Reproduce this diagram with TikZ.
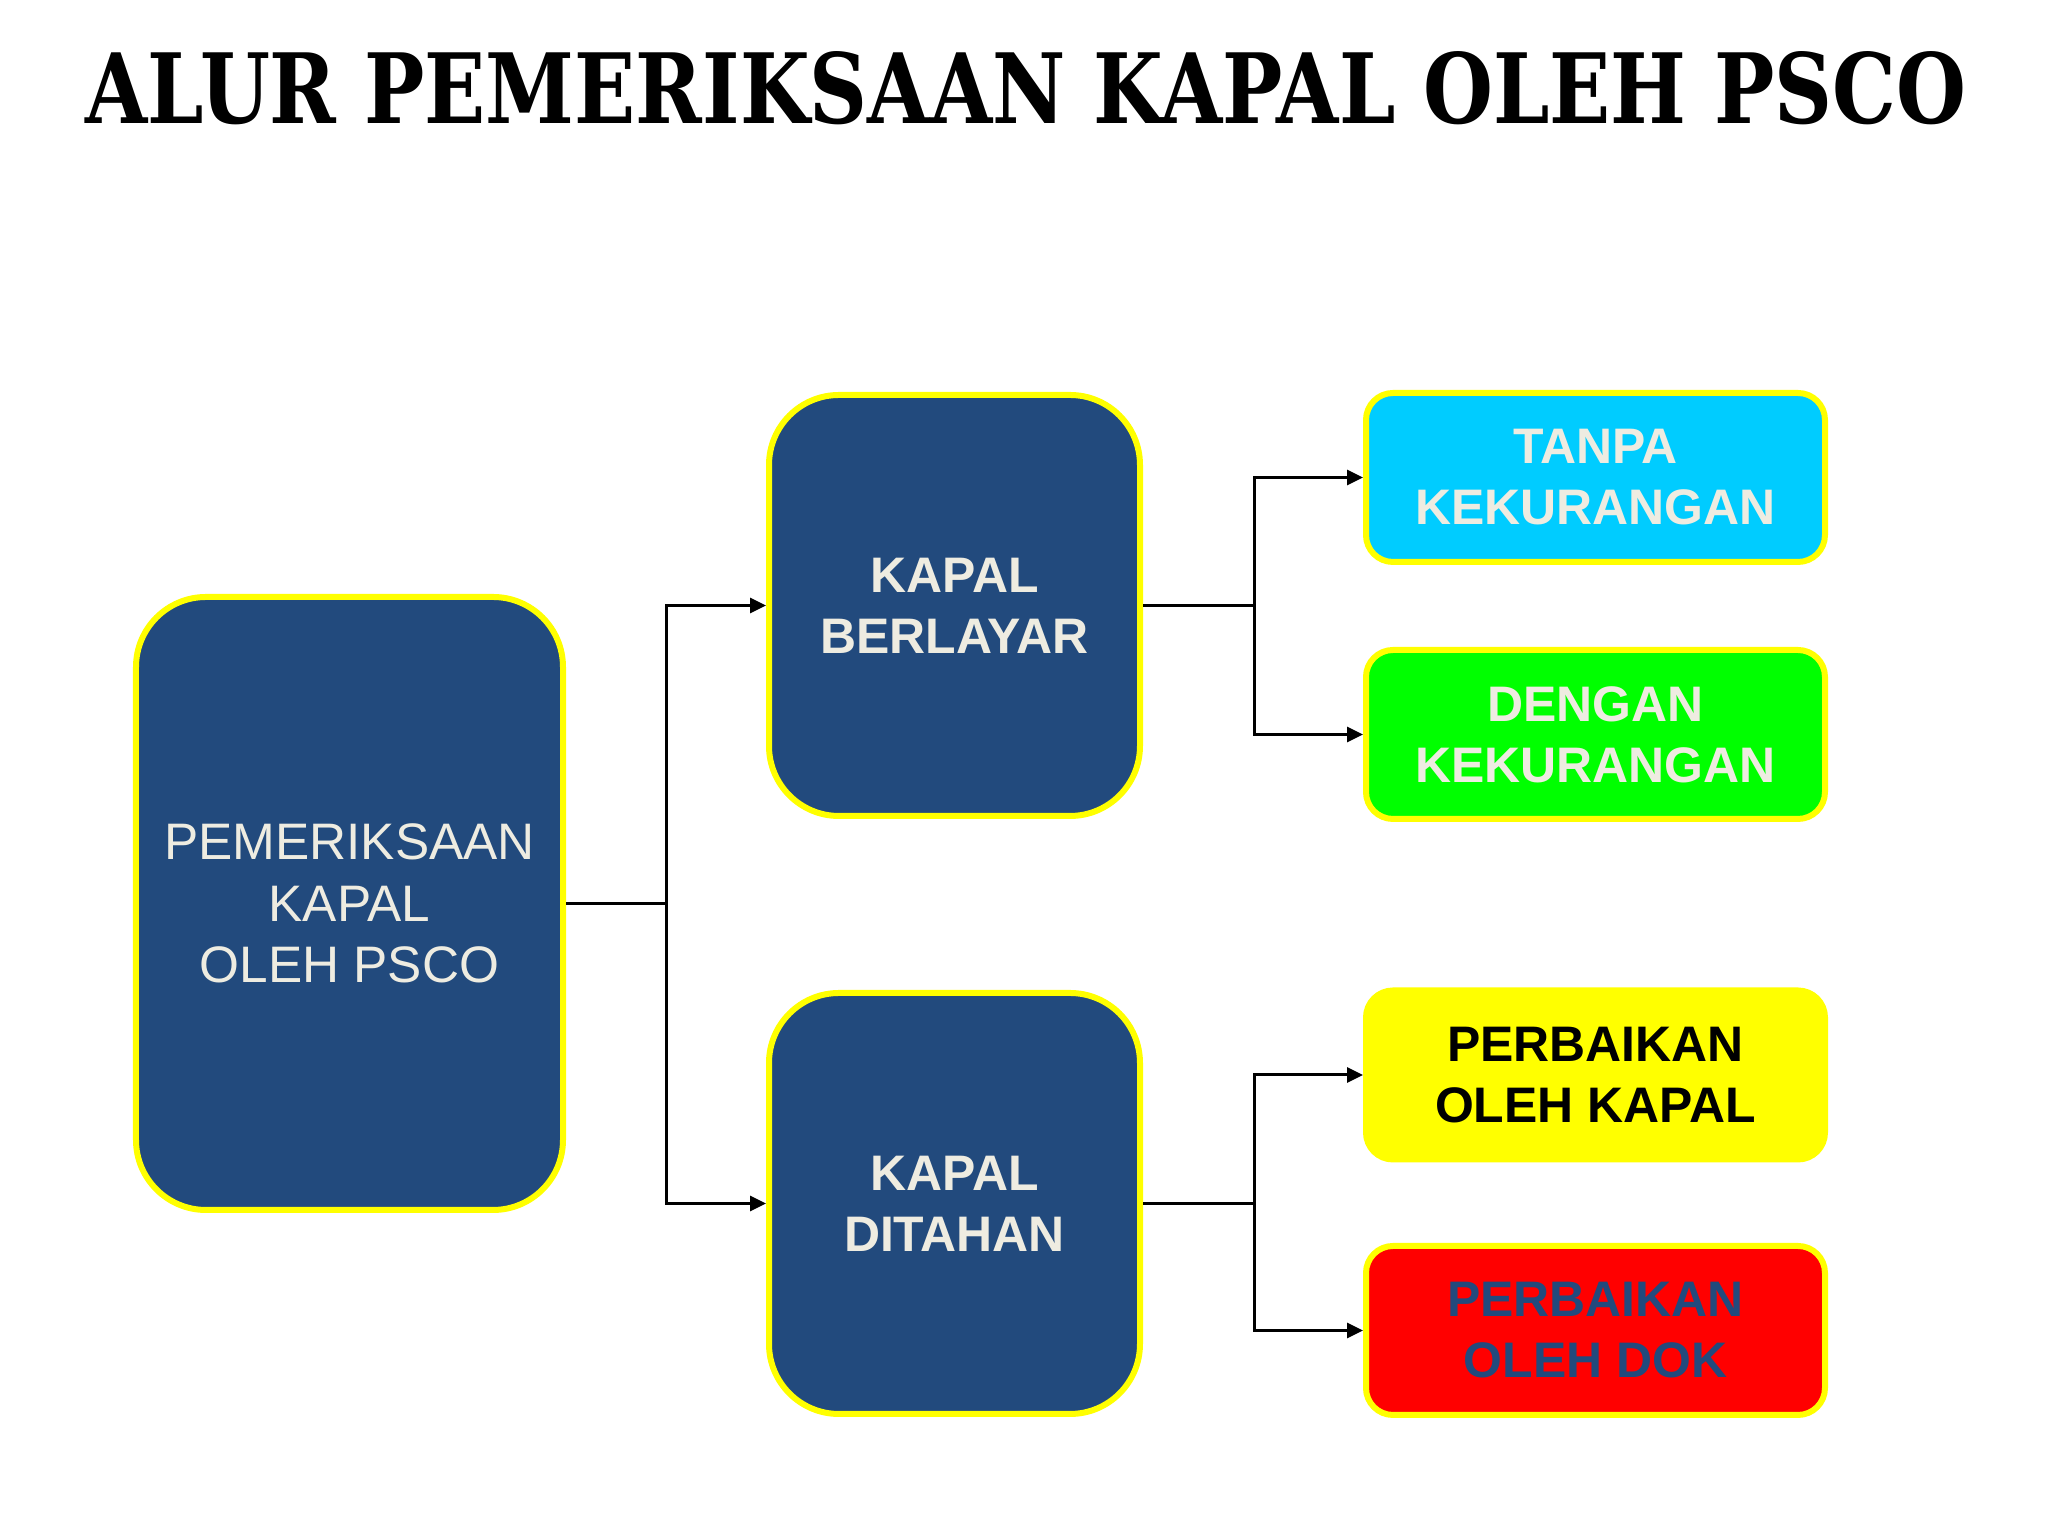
\documentclass[tikz,border=0pt]{standalone}
\usepackage{fontspec}
\setmainfont{Liberation Sans}
\newfontfamily\titlefont{DejaVu Serif}
\usepackage{graphicx}
\usetikzlibrary{arrows.meta}

\definecolor{boxblue}{HTML}{224A7D}
\definecolor{boxtext}{HTML}{EEECE1}
\definecolor{rimyellow}{HTML}{FFFF00}
\definecolor{skycyan}{HTML}{00CCFF}
\definecolor{limegreen}{HTML}{00FF00}
\definecolor{alarmred}{HTML}{FF0000}

\tikzset{
    bigbox/.style={draw=rimyellow, line width=0.06cm, fill=boxblue, rounded corners=0.7cm,
        align=center, text=boxtext, font=\fontsize{14.2}{17.4}\selectfont\bfseries},
    endbox/.style={draw=rimyellow, line width=0.06cm, rounded corners=0.27cm,
        minimum width=4.59cm, minimum height=1.69cm, align=center,
        font=\fontsize{14.2}{17.4}\selectfont\bfseries},
    elbow/.style={-{Triangle[length=0.16cm,width=0.15cm]}, line width=0.03cm,
        to path={-- ++(#1,0) |- (\tikztotarget)}}
}

\begin{document}
\begin{tikzpicture}
        \fill[white] (0,0) rectangle (20.48,15.36);
        \useasboundingbox (0,0) rectangle (20.48,15.36);
        \node[anchor=base west, inner sep=0](T) at (0.85,14.12)
            {\resizebox{18.81cm}{0.72cm}{\titlefont\bfseries ALUR PEMERIKSAAN KAPAL OLEH PSCO}};
        \node[bigbox, minimum width=4.27cm, minimum height=6.13cm,
              font=\fontsize{14.6}{17.4}\selectfont](A) at (3.495,6.325)
            {PEMERIKSAAN\\KAPAL\\OLEH PSCO};
        \node[bigbox, minimum width=3.71cm, minimum height=4.21cm](B) at (9.545,9.305)
            {KAPAL\\BERLAYAR};
        \node[bigbox, minimum width=3.71cm, minimum height=4.21cm](C) at (9.545,3.325)
            {KAPAL\\DITAHAN};
        \node[endbox, fill=skycyan, text=boxtext](D) at (15.955,10.585)
            {TANPA\\KEKURANGAN};
        \node[endbox, fill=limegreen, text=boxtext](E) at (15.955,8.015)
            {DENGAN\\KEKURANGAN};
        \node[endbox, fill=rimyellow, text=black](F) at (15.955,4.61)
            {PERBAIKAN\\OLEH KAPAL};
        \node[endbox, fill=alarmred, text=boxblue](G) at (15.955,2.055)
            {PERBAIKAN\\OLEH DOK};
        \path
            (A.east) edge [elbow=1.0] (B.west)
                     edge [elbow=1.0] (C.west)
            (B.east) edge [elbow=1.11] (D.west)
                     edge [elbow=1.11] (E.west)
            (C.east) edge [elbow=1.11] (F.west)
                     edge [elbow=1.11] (G.west)
            ;
    \end{tikzpicture}
\end{document}
